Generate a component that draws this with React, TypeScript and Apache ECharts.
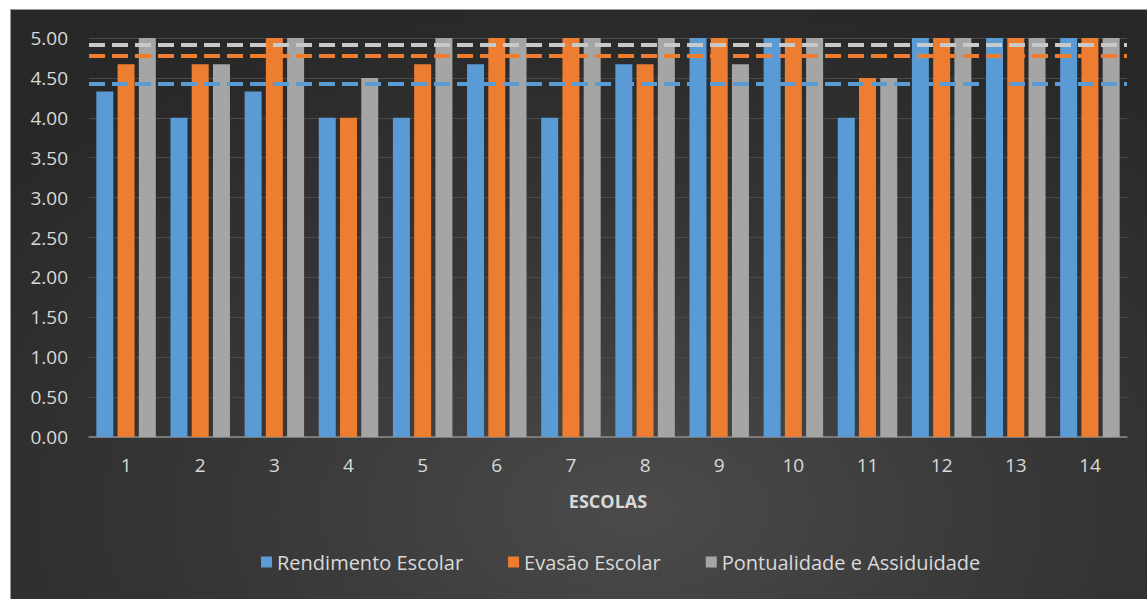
import React, { useEffect, useRef } from "react";
import * as echarts from "echarts";

const categories = ["1", "2", "3", "4", "5", "6", "7", "8", "9", "10", "11", "12", "13", "14"];
const rendimento = [4.33, 4.0, 4.33, 4.0, 4.0, 4.67, 4.0, 4.67, 5.0, 5.0, 4.0, 5.0, 5.0, 5.0];
const evasao = [4.67, 4.67, 5.0, 4.0, 4.67, 5.0, 5.0, 4.67, 5.0, 5.0, 4.5, 5.0, 5.0, 5.0];
const pontualidade = [5.0, 4.67, 5.0, 4.5, 5.0, 5.0, 5.0, 5.0, 4.67, 5.0, 4.5, 5.0, 5.0, 5.0];
const referenceLines = [4.43, 4.78, 4.92];
const seriesNames = ["Rendimento Escolar", "Evasão Escolar", "Pontualidade e Assiduidade"];
const colors = ["#5b9bd5", "#ed7d31", "#a5a5a5"];
const lineColors = ["#5b9bd5", "#ed7d31", "#c9c9c9"];
const yTicks = { min: 0, max: 5, interval: 0.5 };

export default function App() {
  const ref = useRef<HTMLDivElement>(null);
  useEffect(() => {
    if (!ref.current) return;
    const chart = echarts.init(ref.current, null, { renderer: "svg" });
    const font = "'Open Sans', 'Noto Sans', sans-serif";
    const values = [rendimento, evasao, pontualidade];
    chart.setOption({
      animation: false,
      backgroundColor: "transparent",
      textStyle: { fontFamily: font },
      grid: { left: 78, right: 20, top: 28, bottom: 162 },
      legend: {
        data: seriesNames,
        top: 537,
        left: 245,
        itemWidth: 11,
        itemHeight: 11,
        itemGap: 45,
        icon: "rect",
        textStyle: { color: "#d9d9d9", fontSize: 20, fontFamily: font },
      },
      xAxis: {
        type: "category",
        data: categories,
        name: "ESCOLAS",
        nameLocation: "middle",
        nameGap: 55,
        nameTextStyle: { color: "#d9d9d9", fontSize: 18, fontWeight: "bold", fontFamily: font },
        axisLine: { lineStyle: { color: "#8c8c8c", width: 1.5 } },
        axisTick: { show: false },
        axisLabel: { color: "#d9d9d9", fontSize: 19, margin: 18, fontFamily: font },
      },
      yAxis: {
        type: "value",
        min: yTicks.min,
        max: yTicks.max,
        interval: yTicks.interval,
        axisLine: { show: false },
        axisTick: { show: false },
        splitLine: { lineStyle: { color: "#4a4a4a", width: 1 } },
        axisLabel: {
          color: "#d9d9d9",
          fontSize: 19,
          margin: 21,
          fontFamily: font,
          formatter: (v: number) => v.toFixed(2),
        },
      },
      series: seriesNames.map((name, i) => ({
        name,
        type: "bar",
        data: values[i],
        barWidth: 17,
        barGap: "25%",
        itemStyle: { color: colors[i] },
        markLine: {
          silent: true,
          symbol: "none",
          label: { show: false },
          lineStyle: { color: lineColors[i], type: [16, 7], width: 4 },
          data: [{ yAxis: referenceLines[i] }],
          z: 10,
        },
      })),
    });
    return () => chart.dispose();
  }, []);

  return (
    <div style={{ position: "fixed", left: 0, top: 0, width: 1147, height: 599, background: "#ffffff" }}>
      <div
        style={{
          position: "absolute",
          left: 10,
          top: 9,
          width: 1137,
          height: 590,
          boxSizing: "border-box",
          borderLeft: "1px solid #9a9a9a",
          borderTop: "1px solid #9a9a9a",
          background: "radial-gradient(ellipse 75% 90% at 55% 85%, #4b4b4b 0%, #363636 50%, #282828 100%)",
        }}
      >
        <div ref={ref} style={{ width: 1136, height: 589 }} />
      </div>
    </div>
  );
}
